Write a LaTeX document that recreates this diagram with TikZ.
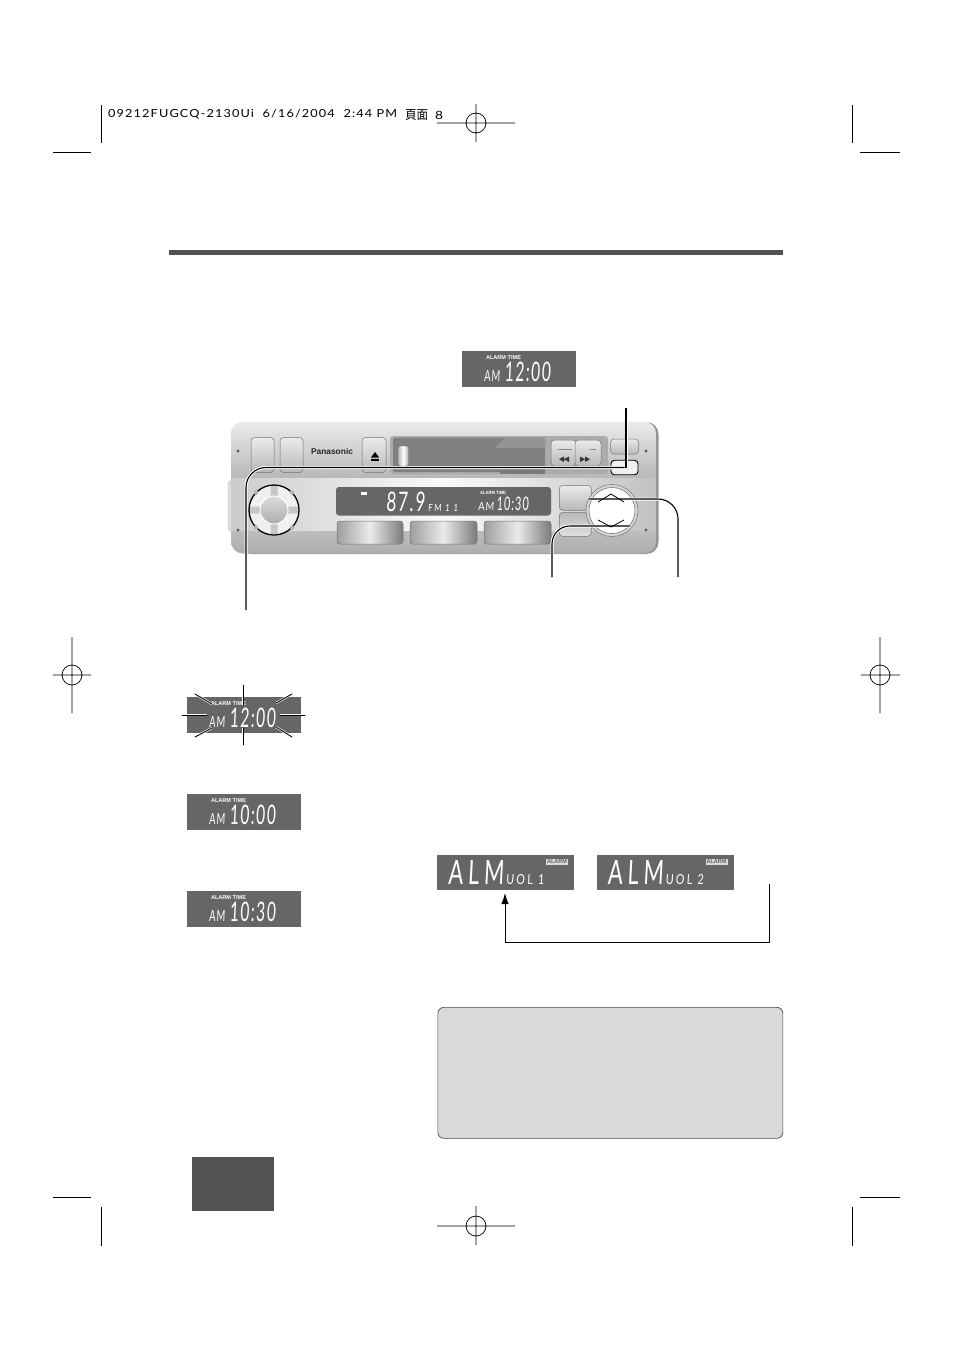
\documentclass[tikz,border=0pt]{standalone}
\usepackage{fontspec}
\usepackage{graphicx}
\setmainfont{Liberation Sans}
\newfontfamily\lcdf[FakeSlant=0.08,LetterSpace=10]{Lato}
\newfontfamily\lcdw[FakeSlant=0.08,LetterSpace=22]{Lato}
\newfontfamily\hdrf[LetterSpace=9]{Lato}
\newfontfamily\cjkf{Noto Sans CJK TC}
\usetikzlibrary{arrows.meta,calc}
\definecolor{lcdgray}{HTML}{666666}
\newcommand{\lcdbox}[3]{\resizebox{#1pt}{#2pt}{\lcdf #3}}
\tikzset{
  x=1pt,y=-1pt,
  lcdpanel/.style={fill=lcdgray,draw=none},
  crop/.style={draw=black,line width=0.7pt},
  lead/.style={draw=black,line width=1.1pt,preaction={draw=white,line width=3pt}},
  ray/.style={draw=black,line width=0.9pt,line cap=round,preaction={draw=white,line width=2.2pt}},
  txt/.style={inner sep=0pt,outer sep=0pt,text=white},
  atxt/.style={inner sep=0pt,outer sep=0pt,text=white,font=\bfseries},
  devbtn/.style={rounded corners=3.5pt,draw=black!55,line width=0.5pt,top color=white!92!black,bottom color=black!28},
  preset/.style={rounded corners=3pt,draw=black!55,line width=0.5pt,left color=black!38,right color=black!52,middle color=black!8},
  screw/.style={circle,fill=black!65,draw=none,minimum size=3.4pt,inner sep=0pt}
}
% clock panel: name, x-left, y-top, digits
\newcommand{\clockpanel}[4]{
  \fill[lcdpanel] (#2,#3) rectangle ++(114,35.5);
  \node[atxt,anchor=west] (#1a) at ($(#2,#3)+(24,6.2)$) {\resizebox{35pt}{3.9pt}{ALARM TIME}};
  \node[txt,anchor=south west] (#1b) at ($(#2,#3)+(22,30.5)$) {\lcdbox{16}{11}{AM}};
  \node[txt,anchor=south west] (#1c) at ($(#2,#3)+(42.5,30.5)$) {\lcdbox{46}{19.5}{#4}};
}
\newcommand{\almpanel}[4]{
  \fill[lcdpanel] (#2,#3) rectangle ++(137,35);
  \node[txt,anchor=south west] (#1a) at ($(#2,#3)+(11,29.5)$) {\resizebox{56pt}{24pt}{\lcdw ALM}};
  \node[txt,anchor=south west] (#1b) at ($(#2,#3)+(69,29.5)$) {\resizebox{38pt}{10pt}{\lcdw UOL #4}};
  \node[inner sep=0pt,fill=white!85!black,minimum width=22pt,minimum height=6pt,text=lcdgray,anchor=center] (#1c) at ($(#2,#3)+(120,6.6)$) {\resizebox{20pt}{4pt}{\bfseries ALARM}};
}
\begin{document}
\begin{tikzpicture}
\useasboundingbox (0,0) rectangle (954,1350);
\fill[white] (0,0) rectangle (954,1350);

% --- header slug
\node[inner sep=0pt,anchor=south west] (slug) at (108,119.5) {\resizebox{289pt}{8.2pt}{\hdrf 09212FUGCQ-2130Ui\ \ 6/16/2004\ \ 2:44\ PM}};
\node[inner sep=0pt,anchor=south west] (slugb) at (405,121) {\resizebox{23pt}{10pt}{\cjkf 頁面}};
\node[inner sep=0pt,anchor=south west] (slugc) at (435,119.5) {\resizebox{8pt}{8.2pt}{\hdrf 8}};

% --- crop marks
\draw[crop] (101,105) -- (101,143);
\draw[crop] (53,152) -- (91,152);
\draw[crop] (852,105) -- (852,143);
\draw[crop] (860,152) -- (900,152);
\draw[crop] (53,1197) -- (91,1197);
\draw[crop] (101,1207) -- (101,1246);
\draw[crop] (860,1197) -- (900,1197);
\draw[crop] (852,1207) -- (852,1246);
% registration marks
\draw[crop] (476,123) circle[radius=10] (437,123) -- (515,123) (476,104) -- (476,142);
\draw[crop] (476,1226) circle[radius=10] (437,1226) -- (515,1226) (476,1206) -- (476,1245);
\draw[crop] (72,675) circle[radius=10] (53,675) -- (91,675) (72,637) -- (72,713);
\draw[crop] (880,675) circle[radius=10] (861,675) -- (900,675) (880,637) -- (880,713);

% --- top rule
\fill[black!68] (169,250) rectangle (783,254.5);

% --- top panel
\clockpanel{pa}{462}{351}{12:00}

% --- device body
\fill[black!14,rounded corners=4pt] (227.5,480) rectangle (240,532);
\fill[black!42,rounded corners=12pt] (240,422) rectangle (658.5,554);
\begin{scope}
\clip[rounded corners=12pt] (231,421.5) rectangle (656,553.5);
\shade[top color=black!8,bottom color=black!28] (231,421.5) rectangle (656,478);
\shade[left color=black!20,right color=black!24,middle color=black!2] (231,478) rectangle (656,531);
\shade[top color=black!26,bottom color=black!32] (231,531) rectangle (656,553.5);
\end{scope}
% cassette door
\fill[black!33,rounded corners=3pt] (390,436) rectangle (608,474);
\fill[black!50,rounded corners=2pt] (393,437.5) rectangle (545,472);
\fill[black!52] (500,470) rectangle (545,474);
\fill[black!42] (505,437.5) -- (545,437.5) -- (545,448) -- (495,448) -- cycle;
\shade[rounded corners=2pt,left color=black!30,right color=black!30,middle color=white,draw=black!60,line width=.4pt] (398,446) rectangle (408.5,466);
% buttons
\node[devbtn,minimum width=23pt,minimum height=35pt,inner sep=0pt] (b1) at (262.5,455) {};
\node[devbtn,minimum width=23pt,minimum height=35pt,inner sep=0pt] (b2) at (291.5,455) {};
\node[devbtn,minimum width=24pt,minimum height=35pt,inner sep=0pt] (ej) at (374,455) {};
\fill[black] (375,452) -- (379,457.5) -- (371,457.5) -- cycle;
\fill[black] (371,459) rectangle (379,460.5);
\node[inner sep=0pt,text=black!85] (brand) at (332,451) {\resizebox{42pt}{!}{\bfseries Panasonic}};
\node[devbtn,minimum width=25pt,minimum height=26pt,inner sep=0pt] (rew) at (563.5,453) {};
\node[devbtn,minimum width=26pt,minimum height=26pt,inner sep=0pt] (ff) at (588,453) {};
\fill[black!80] (564,456.5) -- (564,462) -- (559,459.2) -- cycle (569,456.5) -- (569,462) -- (564,459.2) -- cycle;
\fill[black!80] (580,456.5) -- (580,462) -- (585,459.2) -- cycle (585,456.5) -- (585,462) -- (590,459.2) -- cycle;
\draw[black!45,line width=.4pt] (558,449) -- (572,449) (590,449) -- (596,449);
\node[devbtn,minimum width=28pt,minimum height=15pt,inner sep=0pt] (bt) at (624.5,446.5) {};
\node[rounded corners=3.5pt,draw=black,line width=.9pt,fill=black!6,minimum width=27pt,minimum height=14.5pt,inner sep=0pt] (bb) at (624.5,467.5) {};
\node[screw] (s1) at (238,451) {};
\node[screw] (s2) at (238,530) {};
\node[screw] (s3) at (646,451) {};
\node[screw] (s4) at (646,530) {};
% display
\fill[lcdgray,rounded corners=3pt] (336,487) rectangle (551,515.5);
\fill[white] (361,492) rectangle (367,495);
\node[txt,anchor=south west] (dfreq) at (386,512) {\lcdbox{39}{19.5}{87.9}};
\node[txt,anchor=south west] (dfm) at (428,511.5) {\resizebox{30pt}{7pt}{\lcdw FM 1 1}};
\node[atxt,anchor=west] (dal) at (480,493) {\resizebox{26pt}{3.2pt}{ALARM TIME}};
\node[txt,anchor=south west] (dam) at (478,510.5) {\lcdbox{16}{8}{AM}};
\node[txt,anchor=south west] (dcl) at (496.5,510.5) {\lcdbox{32}{13.5}{10:30}};
% presets
\node[preset,minimum width=66pt,minimum height=23pt,inner sep=0pt] (p1) at (370,532.5) {};
\node[preset,minimum width=67pt,minimum height=23pt,inner sep=0pt] (p2) at (443.5,532.5) {};
\node[preset,minimum width=67pt,minimum height=23pt,inner sep=0pt] (p3) at (517.5,532.5) {};
% side buttons
\node[devbtn,minimum width=32pt,minimum height=25pt,inner sep=0pt,anchor=north west] (up) at (559,485) {};
\node[devbtn,minimum width=32pt,minimum height=24pt,inner sep=0pt,anchor=north west,top color=black!28,bottom color=black!12] (dn) at (559,512) {};
% knob
\node[circle,draw=black,line width=1.3pt,fill=black!6,minimum size=50pt,inner sep=0pt] (knob) at (274,510) {};
\fill[black!22] (270.5,486) rectangle (277.5,534) (250,506.5) rectangle (298,513.5);
\fill[black!30] (256,492.5) circle[radius=2.2] (292,492.5) circle[radius=2.2] (256,527.5) circle[radius=2.2] (292,527.5) circle[radius=2.2];
\shade[top color=black!14,bottom color=black!32,draw=white,line width=1pt] (274,510) circle[radius=14];
% big rocker
\node[circle,draw=black!55,line width=.5pt,fill=black!16,minimum size=52pt,inner sep=0pt] (rock) at (612,510.5) {};
\node[circle,draw=black!60,line width=.5pt,fill=white,minimum size=46pt,inner sep=0pt] (rocki) at (612,510.5) {};

% --- leaders
\coordinate (la) at (246,610);
\coordinate (lb) at (552,577);
\coordinate (lc) at (678,577);
\coordinate (ld) at (626,408);
\coordinate (ue) at (589,499);
\coordinate (de) at (630,526);
\draw[lead,rounded corners=20pt] (la) |- (bb.center);
\draw[lead] (ld) -- (626,467.5);
\draw[lead,rounded corners=18pt] (lb) |- (de);
\draw[lead,rounded corners=20pt] (lc) |- (ue);
% rocker chevrons sit on top of the leaders
\draw[black,line width=.8pt] (598,502) -- (611,494) -- (624,502);
\draw[black,line width=.8pt] (598,520) -- (611,527) -- (624,520);

% --- left panels
\clockpanel{pb}{187}{697}{12:00}
\clockpanel{pc}{187}{794}{10:00}
\clockpanel{pd}{187}{891}{10:30}
% rays
\draw[ray] (243,685) -- (243,705);
\draw[ray] (243,728) -- (243,745);
\draw[ray] (182,715) -- (207,715);
\draw[ray] (280,715) -- (305,715);
\draw[ray] (195,694) -- (212,704);
\draw[ray] (292,694) -- (276,703);
\draw[ray] (195,737) -- (212,728);
\draw[ray] (292,737) -- (276,727);

% --- volume panels
\almpanel{va}{437}{855}{1}
\almpanel{vb}{596.5}{855}{2}
\coordinate (ca) at (769,884);
\coordinate (cb) at (505,893);
\draw[black,line width=.9pt,-{Latex[length=11pt,width=7.5pt]}] (ca) -- (769,942) -- (505,942) -- (cb);

% --- note box and tab
\node[draw=black!70,line width=.7pt,fill=black!15,rounded corners=6pt,minimum width=345pt,minimum height=131pt,inner sep=0pt,anchor=north west] (note) at (437.5,1007) {};
\node[fill=black!68,minimum width=82pt,minimum height=54pt,inner sep=0pt,anchor=north west] (tab) at (192,1157) {};
\end{tikzpicture}
\end{document}
